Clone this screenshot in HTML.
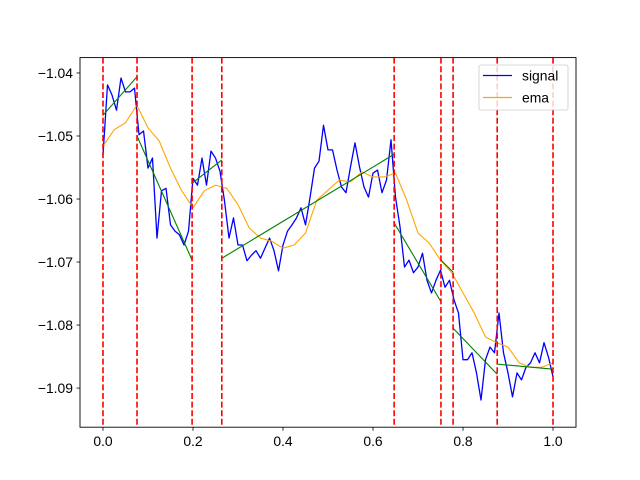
<!DOCTYPE html>
<html><head><meta charset="utf-8"><style>
html,body{margin:0;padding:0;background:#fff;}
svg{display:block;font-family:"Liberation Sans","DejaVu Sans",sans-serif;}
</style></head><body>
<svg id="chart" width="640" height="480" viewBox="0 0 640 480"></svg>
<script>
const signalValues = [-1.0530,-1.0419,-1.0435,-1.0459,-1.0408,-1.0430,-1.0430,-1.0424,-1.0498,-1.0492,
-1.0551,-1.0535,-1.0662,-1.0587,-1.0583,-1.0641,-1.0651,-1.0657,-1.0673,-1.0651,
-1.0567,-1.0578,-1.0535,-1.0578,-1.0524,-1.0535,-1.0556,-1.0603,-1.0662,-1.0630,
-1.0673,-1.0673,-1.0698,-1.0689,-1.0682,-1.0694,-1.0678,-1.0662,-1.0682,-1.0714,
-1.0673,-1.0651,-1.0641,-1.0630,-1.0614,-1.0641,-1.0598,-1.0551,-1.0540,-1.0483,
-1.0522,-1.0522,-1.0554,-1.0581,-1.0590,-1.0549,-1.0511,-1.0549,-1.0581,-1.0597,
-1.0559,-1.0554,-1.0590,-1.0570,-1.0506,-1.0597,-1.0644,-1.0708,-1.0697,-1.0717,
-1.0708,-1.0686,-1.0729,-1.0749,-1.0729,-1.0713,-1.0740,-1.0729,-1.0760,-1.0781,
-1.0855,-1.0855,-1.0844,-1.0876,-1.0919,-1.0855,-1.0835,-1.0844,-1.0781,-1.0844,
-1.0876,-1.0914,-1.0876,-1.0887,-1.0867,-1.0860,-1.0844,-1.0860,-1.0828,-1.0851,-1.0882];
const emaX = [0,0.025,0.05,0.075,0.1,0.125,0.15,0.175,0.2,0.225,0.25,0.275,0.3,0.325,0.35,0.375,0.4,0.425,0.45,0.475,0.5,0.525,0.55,0.575,0.6,0.625,0.65,0.675,0.7,0.725,0.75,0.775,0.8,0.825,0.85,0.875,0.9,0.925,0.95,0.975,1.0];
const emaValues = [-1.0516,-1.0490,-1.0479,-1.0451,-1.0487,-1.0508,-1.0551,-1.0587,-1.0614,-1.0587,-1.0578,-1.0583,-1.0609,-1.0646,-1.0662,-1.0667,-1.0678,-1.0673,-1.0654,-1.0602,-1.0586,-1.0570,-1.0573,-1.0557,-1.0565,-1.0565,-1.0559,-1.0602,-1.0654,-1.0670,-1.0697,-1.0717,-1.0749,-1.0781,-1.0819,-1.0828,-1.0835,-1.0860,-1.0867,-1.0867,-1.0860];
const breakpoints = [0, 0.0756, 0.198, 0.264, 0.647, 0.751, 0.778, 0.876, 1.0];
const segStart = [-1.0467,-1.0500,-1.0575,-1.0694,-1.0638,-1.0697,-1.0805,-1.0862];
const segEnd = [-1.0406,-1.0697,-1.0538,-1.0529,-1.0763,-1.0716,-1.0878,-1.0870];
const xTicks = [0.0,0.2,0.4,0.6,0.8,1.0];
const xTickLabels = ["0.0","0.2","0.4","0.6","0.8","1.0"];
const yTicks = [-1.04,-1.05,-1.06,-1.07,-1.08,-1.09];
const yTickLabels = ["\u22121.04","\u22121.05","\u22121.06","\u22121.07","\u22121.08","\u22121.09"];

const L=80,R=576,T=57.6,B=427.2;
const xMin=-0.0511,xMax=1.0511,yMin=-1.09621,yMax=-1.03756;
const sx=v=>L+(v-xMin)/(xMax-xMin)*(R-L);
const sy=v=>B-(v-yMin)/(yMax-yMin)*(B-T);
const svg=document.getElementById('chart');
const NS='http://www.w3.org/2000/svg';
function mk(tag,attrs,parent){const e=document.createElementNS(NS,tag);for(const k in attrs)e.setAttribute(k,attrs[k]);(parent||svg).appendChild(e);return e;}

const clip=mk('clipPath',{id:'clip'});mk('rect',{x:L,y:T,width:R-L,height:B-T},clip);
const plot=mk('g',{'clip-path':'url(#clip)'});



const n=signalValues.length;
let d=signalValues.map((v,i)=>(i?'L':'M')+sx(i/(n-1)).toFixed(2)+' '+sy(v).toFixed(2)).join(' ');
const sig=mk('path',{d:d,fill:'none',stroke:'#0000ff','stroke-width':1.3,'stroke-linejoin':'round'},plot);



d=emaValues.map((v,i)=>(i?'L':'M')+sx(emaX[i]).toFixed(2)+' '+sy(v).toFixed(2)).join(' ');
const ema=mk('path',{d:d,fill:'none',stroke:'#ffa500','stroke-width':1.1,'stroke-linejoin':'round'},plot);



for(let i=0;i<segStart.length;i++){
  const s=mk('line',{x1:sx(breakpoints[i]),y1:sy(segStart[i]),x2:sx(breakpoints[i+1]),y2:sy(segEnd[i]),stroke:'#008000','stroke-width':1.1},plot);
  
  
}
for(const b of breakpoints){
  const l=mk('line',{x1:sx(b),y1:T,x2:sx(b),y2:B,stroke:'#ff0000','stroke-width':1.6,'stroke-dasharray':'6 2.6'},plot);
  
  
}

const frame=mk('rect',{x:L,y:T,width:R-L,height:B-T,fill:'none',stroke:'#000','stroke-width':0.9});



xTicks.forEach((v,i)=>{
  const x=sx(v);
  const t=mk('line',{x1:x,y1:B,x2:x,y2:B+3.5,stroke:'#000','stroke-width':0.8});
  
  
  const tx=mk('text',{x:x,y:B+19,'font-size':13.9,'text-anchor':'middle',fill:'#000'});
  tx.textContent=xTickLabels[i];
  
  
});
yTicks.forEach((v,i)=>{
  const y=sy(v);
  const t=mk('line',{x1:L-3.5,y1:y,x2:L,y2:y,stroke:'#000','stroke-width':0.8});
  
  
  const tx=mk('text',{x:L-7,y:y+5,'font-size':13.9,'text-anchor':'end',fill:'#000'});
  tx.textContent=yTickLabels[i];
  
  
});

const lg=mk('g',{});


const box=mk('rect',{x:479,y:65,width:89,height:45,rx:2,fill:'#fff','fill-opacity':0.8,stroke:'#cccccc','stroke-width':0.8},lg);


const l1=mk('line',{x1:483,y1:75.5,x2:512,y2:75.5,stroke:'#0000ff','stroke-width':1.3},lg);


const t1=mk('text',{x:522,y:80.5,'font-size':13.9,fill:'#000'},lg);
t1.textContent='signal';


const l2=mk('line',{x1:483,y1:97.5,x2:512,y2:97.5,stroke:'#ffa500','stroke-width':1.3},lg);


const t2=mk('text',{x:522,y:102.5,'font-size':13.9,fill:'#000'},lg);
t2.textContent='ema';


</script>
</body></html>
